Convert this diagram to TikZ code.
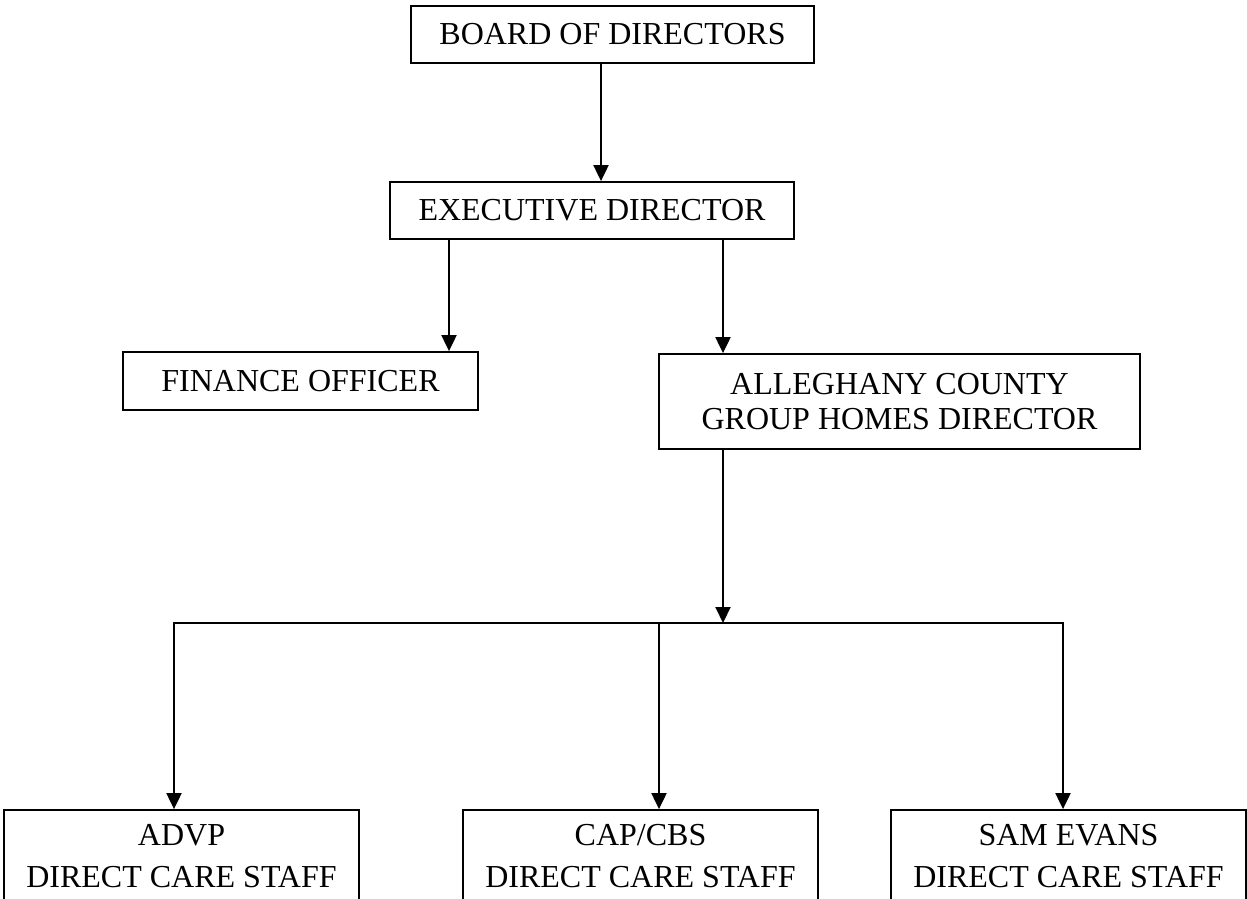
\documentclass[tikz,border=0pt]{standalone}
\usepackage{fontspec}
\setmainfont{Liberation Serif}
\usetikzlibrary{arrows.meta}
\begin{document}
\begin{tikzpicture}[x=1pt,y=-1pt,
  box/.style={draw=black,line width=1.8pt,inner sep=0pt,align=center,
    font=\fontsize{32}{35}\selectfont},
  low/.style={box,minimum width=355pt,minimum height=92pt,font=\fontsize{32}{42}\selectfont},
  arr/.style={line width=2pt,-{Triangle[width=15pt,length=16pt]}},
  ln/.style={line width=2pt}]
\clip (0,0) rectangle (1247,899);
\fill[white] (0,0) rectangle (1247,899);
\node[box,minimum width=403pt,minimum height=57pt] (board) at (612.5,34.5) {BOARD OF DIRECTORS};
\node[box,minimum width=404pt,minimum height=57pt] (exec) at (592,210.5) {EXECUTIVE DIRECTOR};
\node[box,minimum width=355pt,minimum height=58pt] (fin) at (300.5,381) {FINANCE OFFICER};
\node[box,minimum width=481pt,minimum height=95pt] (alle) at (899.5,401.5) {ALLEGHANY COUNTY\\GROUP HOMES DIRECTOR};
\node[low] (advp) at (181.5,856) {ADVP\\DIRECT CARE STAFF};
\node[low] (cap) at (640.5,856) {CAP/CBS\\DIRECT CARE STAFF};
\node[low] (sam) at (1068.5,856) {SAM EVANS\\DIRECT CARE STAFF};
\coordinate (c1) at (601,0);
\coordinate (c2) at (449,0);
\coordinate (c3) at (723,0);
\coordinate (bar) at (0,623);
\coordinate (xa) at (174,0);
\coordinate (xc) at (659,0);
\coordinate (xs) at (1063,0);
\draw[arr] (board.south -| c1) -- (exec.north -| c1);
\draw[arr] (exec.south -| c2) -- (fin.north -| c2);
\draw[arr] (exec.south -| c3) -- (alle.north -| c3);
\draw[arr] (alle.south -| c3) -- (bar -| c3);
\draw[ln,line join=miter] (bar -| xs) -- (bar -| xa);
\draw[arr,line join=miter] (bar -| c3) -- (bar -| xa) -- (advp.north -| xa);
\draw[arr] (bar -| xc) -- (cap.north -| xc);
\draw[arr,line join=miter] (bar -| c3) -- (bar -| xs) -- (sam.north -| xs);
\end{tikzpicture}
\end{document}
